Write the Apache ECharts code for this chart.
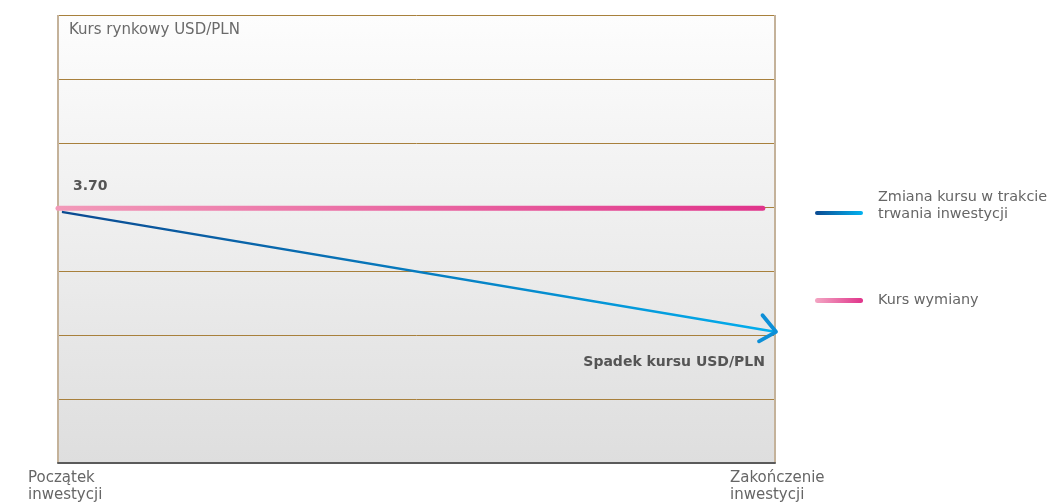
<!DOCTYPE html>
<html>
<head>
<meta charset="utf-8">
<script src="https://cdn.jsdelivr.net/npm/echarts@6/dist/echarts.min.js"></script>
<style>
html,body{margin:0;padding:0;background:#fff;}
#c{width:1052px;height:504px;}
</style>
</head>
<body>
<div id="c"></div>
<script>
// ---- data ----
var xLabels = ['Początek\ninwestycji', 'Zakończenie\ninwestycji'];
var seriesNames = ['Zmiana kursu w trakcie\ntrwania inwestycji', 'Kurs wymiany'];
var kursX = [0, 98.3];          // time position (0 = start, 100 = end)
var kursY = [3.98, 3.98];       // exchange rate level (chart units)
var zmianaX = [0.7, 100];
var zmianaY = [3.92, 2.05];
var kursLabel = '3.70';
var yTitle = 'Kurs rynkowy USD/PLN';
var noteText = 'Spadek kursu USD/PLN';

var FONT = '"DejaVu Sans", sans-serif';
var chart = echarts.init(document.getElementById('c'));

function pairs(xs, ys){ return xs.map(function(x,i){ return [x, ys[i]]; }); }
var zData = pairs(zmianaX, zmianaY);
var option = {
  animation: false,
  backgroundColor: '#ffffff',
  grid: {
    left: 58, right: 277, top: 15, bottom: 41,
    show: true, borderWidth: 0,
    backgroundColor: new echarts.graphic.LinearGradient(0,0,0,1,[
      {offset:0, color:'#fdfdfd'},{offset:1, color:'#dedede'}])
  },
  xAxis: {
    type: 'value', min: 0, max: 100, interval: 100,
    axisLine: {show: true, onZero: false, lineStyle: {color: '#5a5a5a', width: 2}},
    axisTick: {show: false},
    axisLabel: {show: false},
    splitLine: {show: true, lineStyle: {color: '#c4b29a', width: 2}}
  },
  yAxis: {
    type: 'value', min: 0, max: 7, interval: 1,
    axisLine: {show: false}, axisTick: {show: false}, axisLabel: {show: false},
    splitLine: {show: true, lineStyle: {color: '#a8803c', width: 1}}
  },
  series: [
    {
      name: seriesNames[1], type: 'line', symbol: 'none',
      data: pairs(kursX, kursY),
      lineStyle: {width: 5, cap: 'round',
        color: new echarts.graphic.LinearGradient(0,0,1,0,[
          {offset:0, color:'#f29ab9'},{offset:1, color:'#e0348b'}])},
      z: 3
    },
    {
      name: seriesNames[0], type: 'line', symbol: 'none',
      data: zData,
      lineStyle: {width: 2.5, cap: 'round',
        color: new echarts.graphic.LinearGradient(0,0,1,0,[
          {offset:0, color:'#0b4a91'},{offset:1, color:'#02aeee'}])},
      z: 4
    },
    {
      type: 'custom', silent: true,
      data: [zData[1]],
      renderItem: function(params, api){
        var p = api.coord([api.value(0), api.value(1)]);
        var tx = p[0] + 1, ty = p[1];
        return {
          type: 'polyline',
          shape: {points: [[tx - 13.5, ty - 16.5], [tx, ty], [tx - 17, ty + 9.5]]},
          style: {stroke: '#0d8fd7', lineWidth: 3.8, fill: null, lineCap: 'round', lineJoin: 'round'},
          z2: 10
        };
      },
      z: 5
    }
  ],
  graphic: [
    {type:'text', left: 69, top: 23, style:{text: yTitle, font: '15px ' + FONT, fill:'#6a6a6a'}},
    {type:'text', left: 73, top: 179, style:{text: kursLabel, font: 'bold 14px ' + FONT, fill:'#555555'}},
    {type:'text', right: 1052-765, top: 355, style:{text: noteText, font: 'bold 14px ' + FONT, fill:'#555555', textAlign:'right'}},
    {type:'text', left: 28, top: 470, style:{text: xLabels[0], font: '15px ' + FONT, fill:'#666666', lineHeight: 17}},
    {type:'text', left: 730, top: 470, style:{text: xLabels[1], font: '15px ' + FONT, fill:'#666666', lineHeight: 17}},
    // legend
    {type:'rect', shape:{x:815, y:211, width:48, height:4, r:2},
      style:{fill: new echarts.graphic.LinearGradient(0,0,1,0,[
        {offset:0, color:'#0b4a91'},{offset:1, color:'#02b2f0'}])}},
    {type:'text', left: 878, top: 189, style:{text: seriesNames[0], font: '14.4px ' + FONT, fill:'#666666', lineHeight: 17}},
    {type:'rect', shape:{x:815, y:298, width:48, height:5, r:2.5},
      style:{fill: new echarts.graphic.LinearGradient(0,0,1,0,[
        {offset:0, color:'#f3a6c3'},{offset:1, color:'#e0348b'}])}},
    {type:'text', left: 878, top: 293, style:{text: seriesNames[1], font: '14.4px ' + FONT, fill:'#666666'}}
  ]
};
chart.setOption(option);
</script>
</body>
</html>
